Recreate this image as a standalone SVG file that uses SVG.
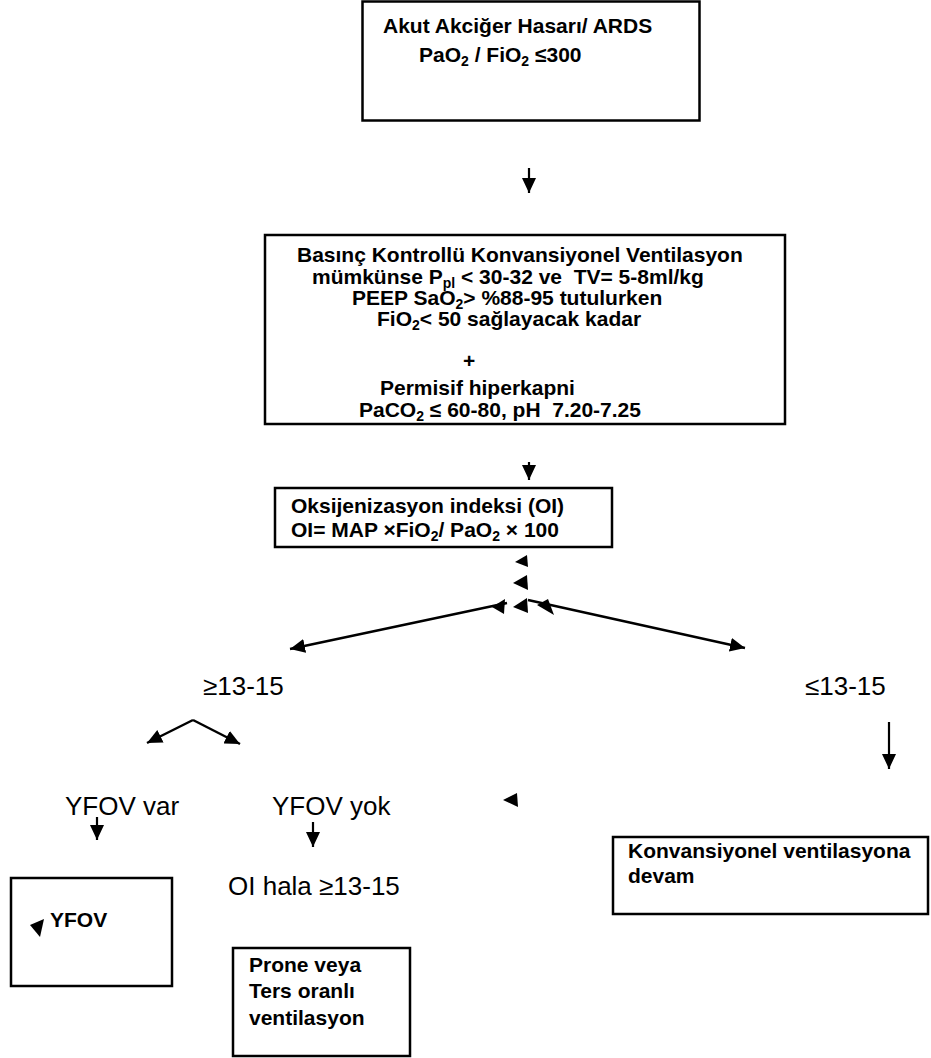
<svg xmlns="http://www.w3.org/2000/svg" width="931" height="1058" viewBox="0 0 931 1058">
<defs>
<style>
.box{fill:#fff;stroke:#000;stroke-width:2.5}
.b{font-family:"Liberation Sans",Arial,sans-serif;font-weight:bold;font-size:21px;fill:#000;white-space:pre}
.r{font-family:"Liberation Sans",Arial,sans-serif;font-size:26px;fill:#000;white-space:pre}
.ln{fill:none;stroke:#000;stroke-width:2.5}
.sh{fill:none;stroke:#000;stroke-width:2.2}
.tri{fill:#000}
</style>
<marker id="ah" viewBox="0 0 15 14" refX="15" refY="7" markerWidth="15" markerHeight="14" markerUnits="userSpaceOnUse" orient="auto">
<path d="M0,0 L15,7 L0,14 Z" fill="#000"/>
</marker>
</defs>
<rect width="931" height="1058" fill="#fff"/>

<g id="n-ards">
<rect class="box" x="362.5" y="1.5" width="337" height="119"/>
<text class="b" x="383" y="33">Akut Akciğer Hasarı/ ARDS</text>
<text class="b" x="419" y="62">PaO<tspan font-size="14" dy="4">2</tspan><tspan dy="-4"> / FiO</tspan><tspan font-size="14" dy="4">2</tspan><tspan dy="-4"> ≤300</tspan></text>
</g>

<g id="n-basinc">
<rect class="box" x="265" y="235" width="520" height="189"/>
<text class="b" x="297" y="262">Basınç Kontrollü Konvansiyonel Ventilasyon</text>
<text class="b" x="312" y="284">mümkünse P<tspan font-size="14" dy="4">pl</tspan><tspan dy="-4"> &lt; 30-32 ve  TV= 5-8ml/kg</tspan></text>
<text class="b" x="352" y="305">PEEP SaO<tspan font-size="14" dy="4">2</tspan><tspan dy="-4">&gt; %88-95 tutulurken</tspan></text>
<text class="b" x="377" y="326">FiO<tspan font-size="14" dy="4">2</tspan><tspan dy="-4">&lt; 50 sağlayacak kadar</tspan></text>
<text class="b" x="463" y="368">+</text>
<text class="b" x="380" y="395">Permisif hiperkapni</text>
<text class="b" x="359" y="417">PaCO<tspan font-size="14" dy="4">2</tspan><tspan dy="-4"> ≤ 60-80, pH  7.20-7.25</tspan></text>
</g>

<g id="n-oi">
<rect class="box" x="275" y="488" width="337" height="59"/>
<text class="b" x="291" y="513">Oksijenizasyon indeksi (OI)</text>
<text class="b" x="291" y="537">OI= MAP ×FiO<tspan font-size="14" dy="4">2</tspan><tspan dy="-4">/ PaO</tspan><tspan font-size="14" dy="4">2</tspan><tspan dy="-4"> × 100</tspan></text>
</g>

<g id="l-ge"><text class="r" x="203" y="695">≥13-15</text></g>
<g id="l-le"><text class="r" x="805" y="695">≤13-15</text></g>
<g id="l-var"><text class="r" x="65" y="815">YFOV var</text></g>
<g id="l-yok"><text class="r" x="272" y="815">YFOV yok</text></g>
<g id="l-hala"><text class="r" x="228" y="895">OI hala ≥13-15</text></g>

<g id="n-yfov">
<rect class="box" x="11" y="878" width="161" height="108"/>
<text class="b" x="50" y="927">YFOV</text>
</g>

<g id="n-prone">
<rect class="box" x="233" y="948" width="177" height="108"/>
<text class="b" x="249" y="972">Prone veya</text>
<text class="b" x="249" y="998">Ters oranlı</text>
<text class="b" x="249" y="1025">ventilasyon</text>
</g>

<g id="n-konv">
<rect class="box" x="613" y="837" width="315" height="77"/>
<text class="b" x="628" y="858">Konvansiyonel ventilasyona</text>
<text class="b" x="628" y="883">devam</text>
</g>

<g id="connectors">
<line class="sh" x1="529" y1="168" x2="529" y2="193" marker-end="url(#ah)"/>
<line class="sh" x1="529" y1="462" x2="529" y2="480" marker-end="url(#ah)"/>
<line class="ln" x1="507" y1="603" x2="290" y2="649" marker-end="url(#ah)"/>
<line class="ln" x1="528" y1="600" x2="745" y2="648" marker-end="url(#ah)"/>
<line class="ln" x1="193" y1="720" x2="147" y2="743" marker-end="url(#ah)"/>
<line class="ln" x1="193" y1="720" x2="240" y2="744" marker-end="url(#ah)"/>
<line class="sh" x1="97" y1="817" x2="97" y2="840" marker-end="url(#ah)"/>
<line class="sh" x1="313" y1="822" x2="313" y2="847" marker-end="url(#ah)"/>
<line class="sh" x1="889" y1="722" x2="889" y2="769" marker-end="url(#ah)"/>
<polygon class="tri" points="515,562 527,555 528,567"/>
<polygon class="tri" points="513,583 527,575 528,590"/>
<polygon class="tri" points="492,607 505,599 504,614"/>
<polygon class="tri" points="513,607 527,598 528,613"/>
<polygon class="tri" points="537,605 548,599 554,615"/>
<polygon class="tri" points="30,925 44,919 40,937"/>
<polygon class="tri" points="503,800 517,793 518,807"/>
</g>
</svg>
